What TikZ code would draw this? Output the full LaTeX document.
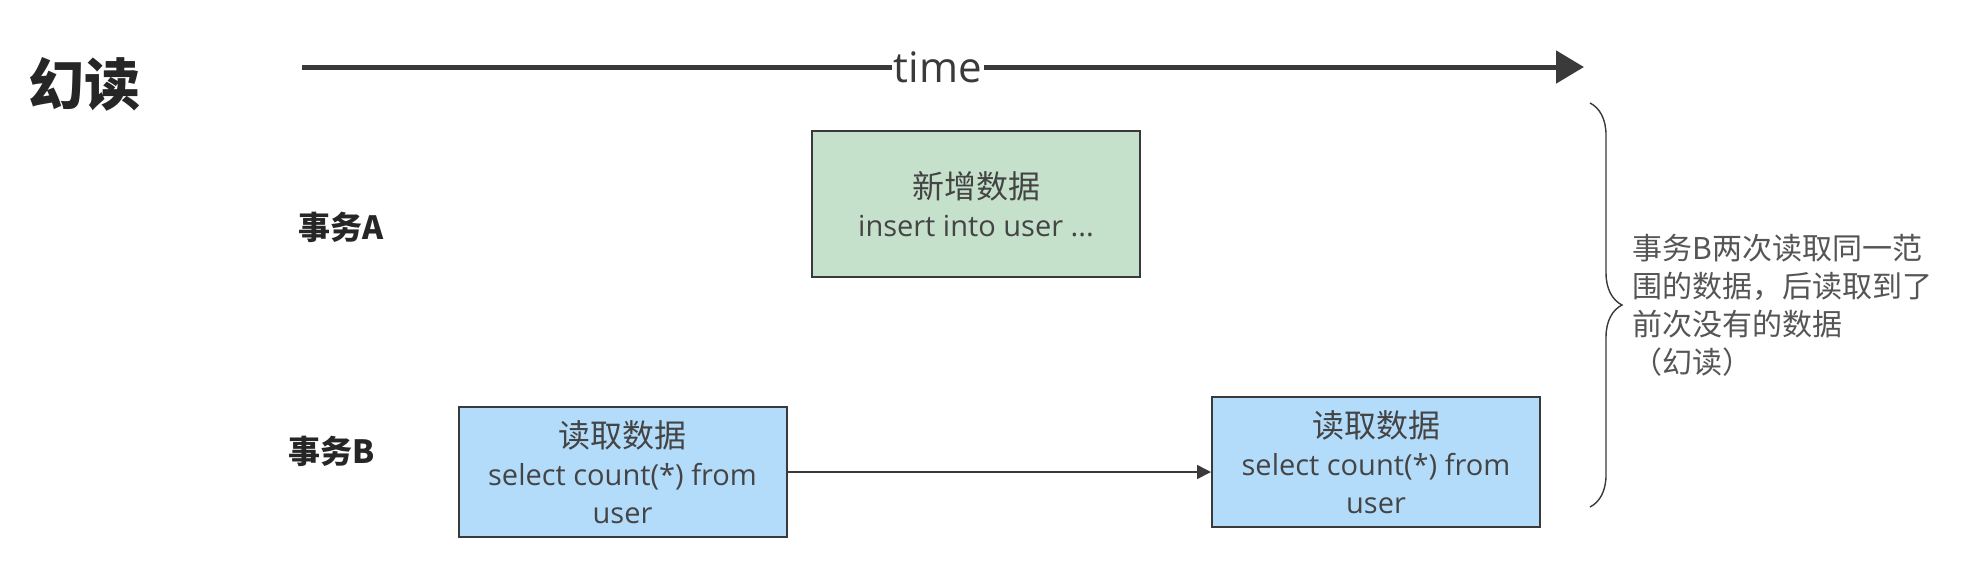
\documentclass[tikz,border=0pt]{standalone}
\usepackage{fontspec}
\setmainfont{Open Sans}
\newfontfamily\cjk{Noto Sans CJK SC}
\usetikzlibrary{positioning, arrows.meta, decorations.pathreplacing}

\definecolor{boxline}{HTML}{3A3A3A}
\definecolor{txtgray}{HTML}{444444}
\definecolor{notegray}{HTML}{555555}
\definecolor{insfill}{HTML}{C5E1CB}
\definecolor{selfill}{HTML}{B3DCFB}

\newcommand{\boxhead}[1]{{\cjk\fontsize{16}{19}\selectfont #1}}

\tikzset{
  opbox/.style={draw=boxline, line width=1pt, align=center, text=txtgray,
    font=\fontsize{14.5}{19}\selectfont, inner sep=0pt},
  insbox/.style={opbox, fill=insfill, minimum width=164pt, minimum height=73pt},
  selbox/.style={opbox, fill=selfill, minimum width=164pt, minimum height=65pt},
  txlabel/.style={text=black!85, font=\cjk\bfseries\fontsize{16}{16}\selectfont},
  note/.style={text=notegray, align=left, inner sep=0pt,
    font=\cjk\fontsize{15}{19}\selectfont}
}

\begin{document}
\begin{tikzpicture}[x=0.5pt, y=-0.5pt]
        \useasboundingbox[fill=white] (0,0) rectangle (1974,575);
        \node[text=black!85, font=\cjk\bfseries\fontsize{28}{28}\selectfont] (title) at (84,84) {幻读};
%
        \coordinate (t0) at (302,67);
        \coordinate (t1) at (1584,67);
        \draw[boxline, line width=2.5pt, -{Triangle[length=14pt, width=16pt]}] (t0) -- (t1);
        \node[fill=white, inner sep=1pt, text=boxline, font=\fontsize{21}{21}\selectfont] (time) at (938,67) {time};
%
        \node[txlabel] (txA) at (341,227) {事务A};
        \node[txlabel] (txB) at (332,451) {事务B};
%
        \node[insbox] (ins) at (976,204) {\boxhead{新增数据}\\insert into user ...};
        \node[selbox] (sel1) at (622.5,472) {\boxhead{读取数据}\\select count(*) from\\user};
        \node[selbox] (sel2) at (1376,462) {\boxhead{读取数据}\\select count(*) from\\user};
        \draw[boxline, line width=0.8pt, -{Triangle[length=7pt, width=7pt]}] (sel1.east) -- (sel1.east -| sel2.west);
%
        \coordinate (bTop) at (1590,103);
        \coordinate (bBot) at (1590,507);
        \coordinate (bTip) at (1622,305);
        \draw[boxline, line width=0.7pt, decorate, decoration={brace, amplitude=16pt}] (bTop) -- (bBot);
        \node[note, anchor=west, right=5pt of bTip] (why) {事务B两次读取同一范\\围的数据，后读取到了\\前次没有的数据\\（幻读）};
\end{tikzpicture}
\end{document}
